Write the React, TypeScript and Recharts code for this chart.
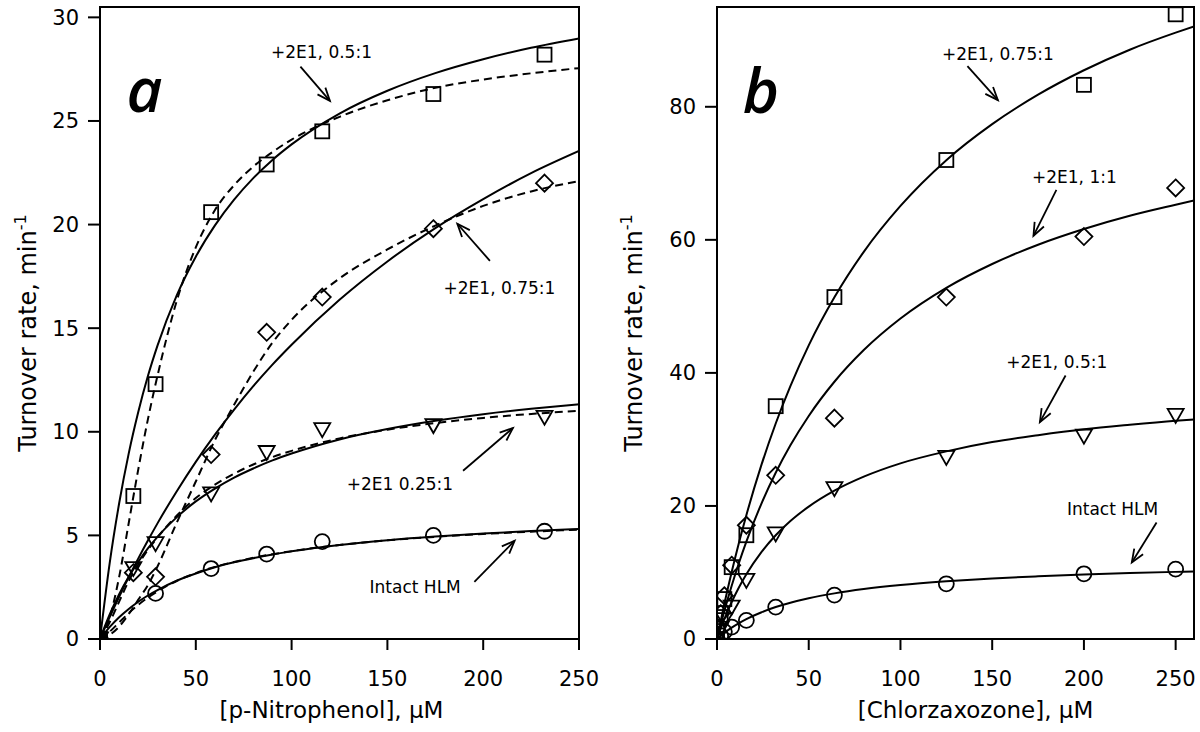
import React from 'react';
import {
  ComposedChart,
  Line,
  Scatter,
  XAxis,
  YAxis,
  ReferenceArea,
  ReferenceLine,
  ReferenceDot,
  Label,
} from 'recharts';

const FONT = '"DejaVu Sans", Verdana, sans-serif';
const LETTER_FONT = '"Open Sans", "Noto Sans", sans-serif';

// ---------- panel a : p-nitrophenol ----------
const A_PTS_X = [0, 17.4, 29, 58, 87, 116, 174, 232];
const A_SQUARE = [0, 6.9, 12.3, 20.6, 22.9, 24.5, 26.3, 28.2];
const A_DIAMOND = [0, 3.2, 3.0, 8.9, 14.8, 16.5, 19.8, 22.0];
const A_TRIANGLE = [0, 3.4, 4.6, 7.0, 9.0, 10.1, 10.3, 10.7];
const A_CIRCLE_X = [0, 29, 58, 87, 116, 174, 232];
const A_CIRCLE = [0, 2.2, 3.4, 4.1, 4.7, 5.0, 5.2];

const A_CURVE_X = [0, 5, 10, 15, 20, 25, 30, 40, 50, 60, 70, 80, 90, 100, 125, 150, 175, 200, 225, 250];
const A_SOLID_05 = [0, 3.63, 6.55, 8.96, 10.97, 12.69, 14.16, 16.57, 18.45, 19.96, 21.2, 22.24, 23.12, 23.87, 25.36, 26.46, 27.31, 27.98, 28.53, 28.98];
const A_DASH_05 = [0, 1.0, 3.0, 5.6, 8.2, 10.6, 12.7, 16.3, 18.9, 20.7, 21.9, 22.8, 23.5, 24.1, 25.2, 26.0, 26.6, 27.0, 27.3, 27.55];
const A_SOLID_075 = [0, 1.05, 2.04, 2.99, 3.89, 4.75, 5.58, 7.12, 8.55, 9.86, 11.07, 12.2, 13.24, 14.2, 16.37, 18.22, 19.83, 21.23, 22.48, 23.55];
const A_DASH_075 = [0, 0.2, 0.6, 1.2, 1.9, 2.6, 3.5, 5.6, 7.6, 9.6, 11.3, 12.9, 14.3, 15.4, 17.4, 18.8, 19.95, 20.9, 21.6, 22.1];
const A_SOLID_025 = [0, 1.17, 2.16, 3.0, 3.73, 4.37, 4.93, 5.87, 6.64, 7.26, 7.79, 8.23, 8.62, 8.95, 9.63, 10.13, 10.53, 10.85, 11.11, 11.33];
const A_DASH_025 = [0, 0.8, 1.8, 2.8, 3.6, 4.3, 4.9, 5.95, 6.8, 7.45, 7.98, 8.42, 8.78, 9.08, 9.68, 10.1, 10.42, 10.67, 10.86, 11.01];
const A_SOLID_HLM = [0, 0.57, 1.05, 1.45, 1.8, 2.1, 2.36, 2.81, 3.16, 3.46, 3.7, 3.9, 4.08, 4.23, 4.54, 4.77, 4.95, 5.09, 5.21, 5.31];
const A_DASH_HLM = [0, 0.35, 0.8, 1.25, 1.65, 2.0, 2.3, 2.8, 3.18, 3.48, 3.72, 3.92, 4.09, 4.24, 4.54, 4.76, 4.93, 5.07, 5.18, 5.28];

const A_X_TICKS = [0, 50, 100, 150, 200, 250];
const A_Y_TICKS = [0, 5, 10, 15, 20, 25, 30];

// ---------- panel b : chlorzoxazone ----------
const B_PTS_X = [0, 2, 4, 8, 16, 32, 64, 125, 200, 250];
const B_SQUARE = [0, 3.3, 6.0, 10.8, 15.6, 35.0, 51.4, 72.0, 83.3, 93.9];
const B_DIAMOND = [0, 3.8, 6.5, 11.1, 17.1, 24.6, 33.2, 51.4, 60.5, 67.8];
const B_TRIANGLE = [0, 1.6, 2.9, 4.8, 8.8, 15.8, 22.6, 27.3, 30.5, 33.6];
const B_CIRCLE = [0, 0.5, 1.1, 1.8, 2.8, 4.8, 6.6, 8.3, 9.8, 10.5];

const B_CURVE_X = [0, 2, 4, 8, 12, 16, 24, 32, 40, 50, 64, 80, 100, 125, 150, 175, 200, 225, 250, 260];
const B_SOLID_075 = [0, 2.68, 5.25, 10.06, 14.51, 18.61, 25.98, 32.39, 38.0, 44.14, 51.36, 58.2, 65.1, 71.98, 77.39, 81.82, 85.49, 88.58, 91.14, 92.07];
const B_SOLID_1 = [0, 2.15, 4.2, 8.0, 11.46, 14.63, 20.21, 24.98, 29.11, 33.53, 38.67, 43.43, 48.17, 52.78, 56.37, 59.26, 61.62, 63.61, 65.27, 65.91];
const B_SOLID_05 = [0, 1.56, 2.99, 5.56, 7.79, 9.74, 12.99, 15.59, 17.73, 19.9, 22.3, 24.4, 26.4, 28.2, 29.6, 30.63, 31.52, 32.2, 32.8, 33.0];
const B_SOLID_HLM = [0, 0.48, 0.92, 1.71, 2.4, 3.0, 3.99, 4.8, 5.46, 6.13, 6.86, 7.51, 8.12, 8.68, 9.11, 9.43, 9.69, 9.91, 10.09, 10.15];

const B_X_TICKS = [0, 50, 100, 150, 200, 250];
const B_Y_TICKS = [0, 20, 40, 60, 80];

// annotations (data units)
const A_NOTES = [
  { text: '+2E1, 0.5:1', x: 115.6, y: 28.35, from: [104.6, 27.62], to: [120.0, 25.97] },
  { text: '+2E1, 0.75:1', x: 208.5, y: 16.93, from: [203.5, 18.25], to: [186.5, 20.04] },
  { text: '+2E1 0.25:1', x: 156.5, y: 7.48, from: [189.5, 8.12], to: [215.5, 10.18] },
  { text: 'Intact HLM', x: 164.5, y: 2.49, from: [195.4, 2.76], to: [216.4, 4.74] },
];
const B_NOTES = [
  { text: '+2E1, 0.75:1', x: 153.1, y: 88.0, from: [136.5, 86.1], to: [153.1, 81.0] },
  { text: '+2E1, 1:1', x: 194.8, y: 69.5, from: [185.0, 67.5], to: [172.5, 60.6] },
  { text: '+2E1, 0.5:1', x: 185.2, y: 41.6, from: [190.0, 39.6], to: [176.0, 32.6] },
  { text: 'Intact HLM', x: 215.6, y: 19.6, from: [239.6, 17.5], to: [226.1, 11.5] },
];

const zip = (xs: number[], ys: number[]) => xs.map((x, i) => ({ x, y: ys[i] }));

const Square = (p: any) => (
  <rect x={p.cx - 7} y={p.cy - 7} width={14} height={14} fill="none" stroke="#000" strokeWidth={1.8} />
);
const Diamond = (p: any) => (
  <polygon
    points={`${p.cx},${p.cy - 8.5} ${p.cx + 8.5},${p.cy} ${p.cx},${p.cy + 8.5} ${p.cx - 8.5},${p.cy}`}
    fill="none"
    stroke="#000"
    strokeWidth={1.8}
  />
);
const TriDown = (p: any) => (
  <polygon
    points={`${p.cx - 8},${p.cy - 6.5} ${p.cx + 8},${p.cy - 6.5} ${p.cx},${p.cy + 7.5}`}
    fill="none"
    stroke="#000"
    strokeWidth={1.8}
  />
);
const Circle = (p: any) => <circle cx={p.cx} cy={p.cy} r={7.5} fill="none" stroke="#000" strokeWidth={1.8} />;

const Arrow = (p: any) => {
  const { x1, y1, x2, y2 } = p;
  const ang = Math.atan2(y2 - y1, x2 - x1);
  const h = 14;
  const w = 0.38;
  const a1 = `${x2 - h * Math.cos(ang - w)},${y2 - h * Math.sin(ang - w)}`;
  const a2 = `${x2 - h * Math.cos(ang + w)},${y2 - h * Math.sin(ang + w)}`;
  return (
    <g stroke="#000" strokeWidth={1.8} fill="none">
      <line x1={x1} y1={y1} x2={x2} y2={y2} />
      <polyline points={`${a1} ${x2},${y2} ${a2}`} />
    </g>
  );
};

const noteText = (text: string) => (p: any) => (
  <text x={p.cx} y={p.cy} textAnchor="middle" dominantBaseline="central" fontFamily={FONT} fontSize={17} fill="#000">
    {text}
  </text>
);

const letter = (t: string) => (p: any) => (
  <text x={p.cx} y={p.cy} fontFamily={LETTER_FONT} fontStyle="italic" fontWeight={600} fontSize={62} fill="#000">
    {t}
  </text>
);

const yLabel = (dx: number) => (props: any) => {
  const vb = props.viewBox;
  const x = vb.x + dx;
  const y = vb.y + vb.height / 2 + 10;
  return (
    <text x={x} y={y} transform={`rotate(-90, ${x}, ${y})`} textAnchor="middle" fontFamily={FONT} fontSize={24} fill="#000">
      Turnover rate, min
      <tspan dy={-10} fontSize={16}>
        -1
      </tspan>
    </text>
  );
};

const xLabel = (text: string, dx: number) => (props: any) => {
  const vb = props.viewBox;
  return (
    <text x={vb.x + vb.width / 2 + dx} y={vb.y + 79} textAnchor="middle" fontFamily={FONT} fontSize={23} fill="#000">
      {text}
    </text>
  );
};

const tickStyle = { fill: '#000', fontSize: 21, fontFamily: FONT };
const axisLine = { stroke: '#000', strokeWidth: 2 };

function Panel(props: {
  xMax: number;
  yMax: number;
  xTicks: number[];
  yTicks: number[];
  margin: any;
  xTitle: string;
  xTitleDx: number;
  yTitleDx: number;
  letterText: string;
  letterPos: [number, number];
  notes: typeof A_NOTES;
  children: React.ReactNode;
}) {
  return (
    <ComposedChart width={600} height={732} margin={props.margin}>
      <XAxis
        type="number"
        dataKey="x"
        domain={[0, props.xMax]}
        ticks={props.xTicks}
        allowDataOverflow
        height={93}
        tickSize={11}
        tickMargin={21}
        tick={tickStyle}
        tickLine={axisLine}
        axisLine={axisLine}
      >
        <Label content={xLabel(props.xTitle, props.xTitleDx)} />
      </XAxis>
      <YAxis
        type="number"
        dataKey="y"
        domain={[0, props.yMax]}
        ticks={props.yTicks}
        allowDataOverflow
        width={80}
        tickSize={12}
        tickMargin={9}
        tick={tickStyle}
        tickLine={axisLine}
        axisLine={axisLine}
      >
        <Label content={yLabel(props.yTitleDx)} />
      </YAxis>
      <ReferenceArea x1={0} x2={props.xMax} y1={0} y2={props.yMax} fill="none" stroke="#000" strokeWidth={2} />
      {props.children}
      {props.notes.map((n, i) => (
        <ReferenceLine
          key={'a' + i}
          segment={[
            { x: n.from[0], y: n.from[1] },
            { x: n.to[0], y: n.to[1] },
          ]}
          shape={Arrow}
        />
      ))}
      {props.notes.map((n, i) => (
        <ReferenceDot key={'t' + i} x={n.x} y={n.y} r={1} shape={noteText(n.text)} />
      ))}
      <ReferenceDot x={props.letterPos[0]} y={props.letterPos[1]} r={1} shape={letter(props.letterText)} />
    </ComposedChart>
  );
}

const solid = (data: { x: number; y: number }[], key: string) => (
  <Line
    key={key}
    data={data}
    dataKey="y"
    type="monotone"
    stroke="#000"
    strokeWidth={2}
    dot={false}
    activeDot={false}
    isAnimationActive={false}
  />
);
const dashed = (data: { x: number; y: number }[], key: string) => (
  <Line
    key={key}
    data={data}
    dataKey="y"
    type="monotone"
    stroke="#000"
    strokeWidth={2}
    strokeDasharray="8 5"
    dot={false}
    activeDot={false}
    isAnimationActive={false}
  />
);
const points = (data: { x: number; y: number }[], shape: any, key: string) => (
  <Scatter key={key} data={data} dataKey="y" shape={shape} isAnimationActive={false} />
);

export default function App() {
  return (
    <div style={{ position: 'absolute', left: 0, top: 0, width: 1200, height: 732, background: '#fff', display: 'flex' }}>
      <Panel
        xMax={250}
        yMax={30.5}
        xTicks={A_X_TICKS}
        yTicks={A_Y_TICKS}
        margin={{ top: 7, right: 21, bottom: 0, left: 20 }}
        xTitle="[p-Nitrophenol], µM"
        xTitleDx={-8}
        yTitleDx={16}
        letterText="a"
        letterPos={[13.8, 25.45]}
        notes={A_NOTES}
      >
        {solid(zip(A_CURVE_X, A_SOLID_05), 's05')}
        {dashed(zip(A_CURVE_X, A_DASH_05), 'd05')}
        {solid(zip(A_CURVE_X, A_SOLID_075), 's075')}
        {dashed(zip(A_CURVE_X, A_DASH_075), 'd075')}
        {solid(zip(A_CURVE_X, A_SOLID_025), 's025')}
        {dashed(zip(A_CURVE_X, A_DASH_025), 'd025')}
        {solid(zip(A_CURVE_X, A_SOLID_HLM), 'shlm')}
        {dashed(zip(A_CURVE_X, A_DASH_HLM), 'dhlm')}
        {points(zip(A_PTS_X, A_SQUARE), Square, 'psq')}
        {points(zip(A_PTS_X, A_DIAMOND), Diamond, 'pdi')}
        {points(zip(A_PTS_X, A_TRIANGLE), TriDown, 'ptr')}
        {points(zip(A_CIRCLE_X, A_CIRCLE), Circle, 'pci')}
      </Panel>
      <Panel
        xMax={260}
        yMax={95}
        xTicks={B_X_TICKS}
        yTicks={B_Y_TICKS}
        margin={{ top: 7, right: 6, bottom: 0, left: 37 }}
        xTitle="[Chlorzaxozone], µM"
        xTitleDx={20}
        yTitleDx={5}
        letterText="b"
        letterPos={[14.0, 79.1]}
        notes={B_NOTES}
      >
        {solid(zip(B_CURVE_X, B_SOLID_075), 's075')}
        {solid(zip(B_CURVE_X, B_SOLID_1), 's1')}
        {solid(zip(B_CURVE_X, B_SOLID_05), 's05')}
        {solid(zip(B_CURVE_X, B_SOLID_HLM), 'shlm')}
        {points(zip(B_PTS_X, B_SQUARE), Square, 'psq')}
        {points(zip(B_PTS_X, B_DIAMOND), Diamond, 'pdi')}
        {points(zip(B_PTS_X, B_TRIANGLE), TriDown, 'ptr')}
        {points(zip(B_PTS_X, B_CIRCLE), Circle, 'pci')}
      </Panel>
    </div>
  );
}
